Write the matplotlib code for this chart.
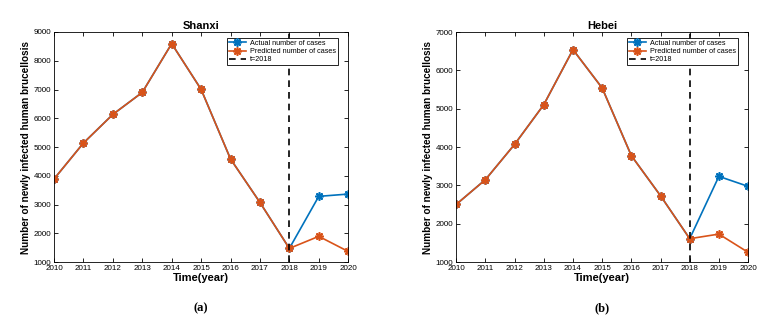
import matplotlib.pyplot as plt
import numpy as np

plt.rcParams['font.family'] = ['Liberation Sans', 'DejaVu Sans']

years = [2010, 2011, 2012, 2013, 2014, 2015, 2016, 2017, 2018, 2019, 2020]

shanxi_actual = [3890, 5140, 6135, 6900, 8595, 7005, 4585, 3075, 1475, 3285, 3365]
shanxi_pred = [3890, 5140, 6135, 6900, 8595, 7005, 4585, 3075, 1475, 1895, 1370]

hebei_actual = [2505, 3150, 4070, 5105, 6540, 5540, 3775, 2730, 1610, 3235, 2975]
hebei_pred = [2505, 3150, 4070, 5105, 6540, 5540, 3775, 2730, 1610, 1730, 1255]

blue = '#0072BD'
orange = '#D95319'
star = (8, 2, 0)  # matlab-like asterisk

fig = plt.figure(figsize=(7.72, 3.2), dpi=100)
ax1 = fig.add_axes([0.070, 0.181, 0.381, 0.719])
ax2 = fig.add_axes([0.591, 0.181, 0.378, 0.719])

panels = [
    (ax1, 'Shanxi', shanxi_actual, shanxi_pred, (1000, 9000), '(a)'),
    (ax2, 'Hebei', hebei_actual, hebei_pred, (1000, 7000), '(b)'),
]

for ax, name, act, pred, ylim, tag in panels:
    ax.plot(years, act, color=blue, marker=star, markersize=6, mew=1.2, lw=1.2,
            label='Actual number of cases')
    ax.plot(years, pred, color=orange, marker=star, markersize=6, mew=1.2, lw=1.2,
            label='Predicted number of cases')
    ax.axvline(2018, color='black', ls=(0, (4, 3)), lw=1.2, label='t=2018')
    ax.set_xlim(2010, 2020)
    ax.set_ylim(*ylim)
    ax.set_xticks(years)
    ax.set_yticks(np.arange(ylim[0], ylim[1] + 1, 1000))
    ax.tick_params(direction='in', top=True, right=True, labelsize=5.8,
                   length=3, width=0.6, pad=2)
    for s in ax.spines.values():
        s.set_linewidth(0.6)
    ax.set_title(name, fontsize=8, fontweight='bold', pad=2)
    ax.set_xlabel('Time(year)', fontsize=8, fontweight='bold', labelpad=1)
    ax.set_ylabel('Number of newly infected human brucellosis', fontsize=7.2,
                  fontweight='bold', labelpad=2)
    leg = ax.legend(loc='upper right', bbox_to_anchor=(0.965, 0.975),
                    fontsize=5.2, fancybox=False, framealpha=1,
                    edgecolor='black', borderpad=0.3, handlelength=2.4,
                    handletextpad=0.5, labelspacing=0.15, borderaxespad=0)
    leg.get_frame().set_linewidth(0.6)
    ax.text(0.5, -0.2, tag, transform=ax.transAxes, ha='center', va='center',
            fontsize=9, fontweight='bold', family='Liberation Serif')

fig.savefig('out.png', dpi=100)
